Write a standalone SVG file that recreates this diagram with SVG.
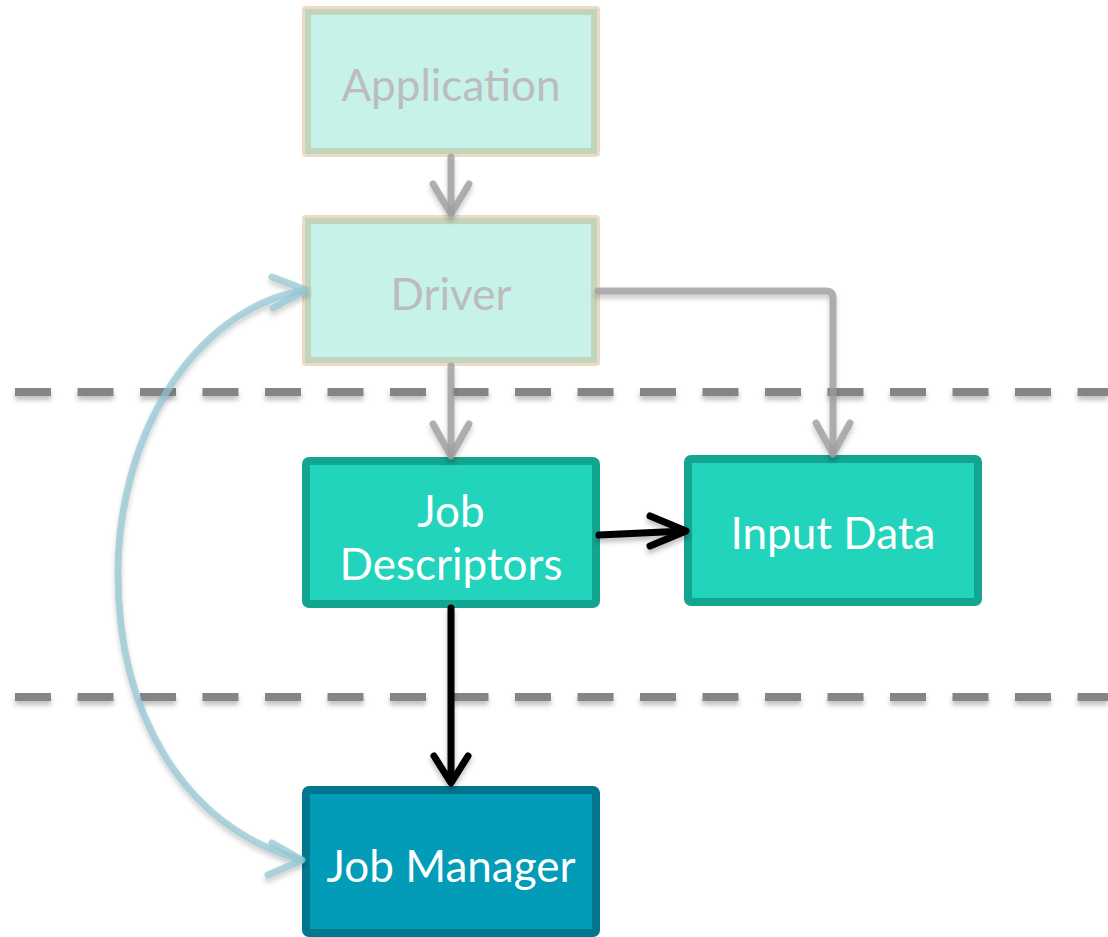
<svg xmlns="http://www.w3.org/2000/svg" width="1108" height="937" viewBox="0 0 1108 937">
  <defs>
    <filter id="shadow" x="-20%" y="-20%" width="140%" height="160%">
      <feDropShadow dx="0" dy="4" stdDeviation="2.5" flood-color="#000" flood-opacity="0.25"/>
    </filter>
    <style>
      .label { font-family: "Lato", "Open Sans", "Liberation Sans", sans-serif; font-size: 44px; text-anchor: middle; }
      .faded-text { fill: #bcbcbc; }
      .light-text { fill: #ffffff; }
      .faded-halo { fill: #f0dac3; }
      .faded-box { fill: #c6f2ea; stroke: #c1d4bc; stroke-width: 6; }
      .data-box { fill: #21d4bb; stroke: #12a590; stroke-width: 8; }
      .mgr-box { fill: #029cb9; stroke: #01778f; stroke-width: 8; }
      .divider { fill: none; stroke: #858585; stroke-width: 8; stroke-dasharray: 36 26.5; }
      .gray-conn { fill: none; stroke: #9c9c9c; stroke-opacity: 0.78; stroke-width: 7; stroke-linecap: round; stroke-linejoin: round; }
      .black-conn { fill: none; stroke: #000000; stroke-width: 7; stroke-linecap: round; stroke-linejoin: round; }
      .blue-conn { fill: none; stroke: #8fc5d2; stroke-opacity: 0.7; stroke-width: 7; stroke-linecap: round; stroke-linejoin: round; }
    </style>
  </defs>

  <rect width="1108" height="937" fill="#ffffff"/>

  <!-- layer dividers -->
  <g id="dividers" filter="url(#shadow)">
    <line class="divider" x1="15" y1="392" x2="1108" y2="392"/>
    <line class="divider" x1="15" y1="697" x2="1108" y2="697"/>
  </g>

  <!-- nodes -->
  <g id="application">
    <rect class="faded-halo" x="302" y="6" width="298" height="151" rx="4"/>
    <rect class="faded-box" x="308" y="12" width="286" height="139"/>
    <text class="label faded-text" x="451" y="101">Application</text>
  </g>

  <g id="driver">
    <rect class="faded-halo" x="302" y="215" width="298" height="151" rx="4"/>
    <rect class="faded-box" x="308" y="221" width="286" height="139"/>
    <text class="label faded-text" x="451" y="310">Driver</text>
  </g>

  <g id="job-descriptors">
    <rect class="data-box" x="306" y="461" width="290" height="143" rx="3"/>
    <text class="label light-text" x="451" y="527">Job</text>
    <text class="label light-text" x="451" y="580">Descriptors</text>
  </g>

  <g id="input-data">
    <rect class="data-box" x="688" y="459" width="290" height="143" rx="3"/>
    <text class="label light-text" x="833" y="549">Input Data</text>
  </g>

  <g id="job-manager">
    <rect class="mgr-box" x="306" y="790" width="290" height="143" rx="3"/>
    <text class="label light-text" x="451" y="882">Job Manager</text>
  </g>

  <!-- connectors -->
  <g id="connectors">
    <g filter="url(#shadow)">
      <!-- Application -> Driver -->
      <path class="gray-conn" d="M451 157 L451 213"/>
      <path class="gray-conn" d="M433 184 L451 214 L469 184"/>
      <!-- Driver -> Job Descriptors -->
      <path class="gray-conn" d="M451 366 L451 455"/>
      <path class="gray-conn" d="M433 424 L451 456 L469 424"/>
      <!-- Driver -> Input Data -->
      <path class="gray-conn" d="M598 291 L826 291 Q833 291 833 298 L833 453"/>
      <path class="gray-conn" d="M816 423 L833 454 L850 423"/>
      <!-- Job Descriptors -> Input Data -->
      <path class="black-conn" d="M599 535 L685 531"/>
      <path class="black-conn" d="M650 516 L686 531 L650 546"/>
      <!-- Job Descriptors -> Job Manager -->
      <path class="black-conn" d="M451 608 L451 782"/>
      <path class="black-conn" d="M434 756 L451 783 L468 756"/>
    </g>
    <!-- Driver <-> Job Manager -->
    <g filter="url(#shadow)">
      <path class="blue-conn" d="M305 290 C190 310 118 440 118 573 C118 710 180 825 301 860"/>
      <path class="blue-conn" d="M272 277 L306 290 L273 308"/>
      <path class="blue-conn" d="M272 843 L302 860 L268 875"/>
    </g>
  </g>
</svg>
